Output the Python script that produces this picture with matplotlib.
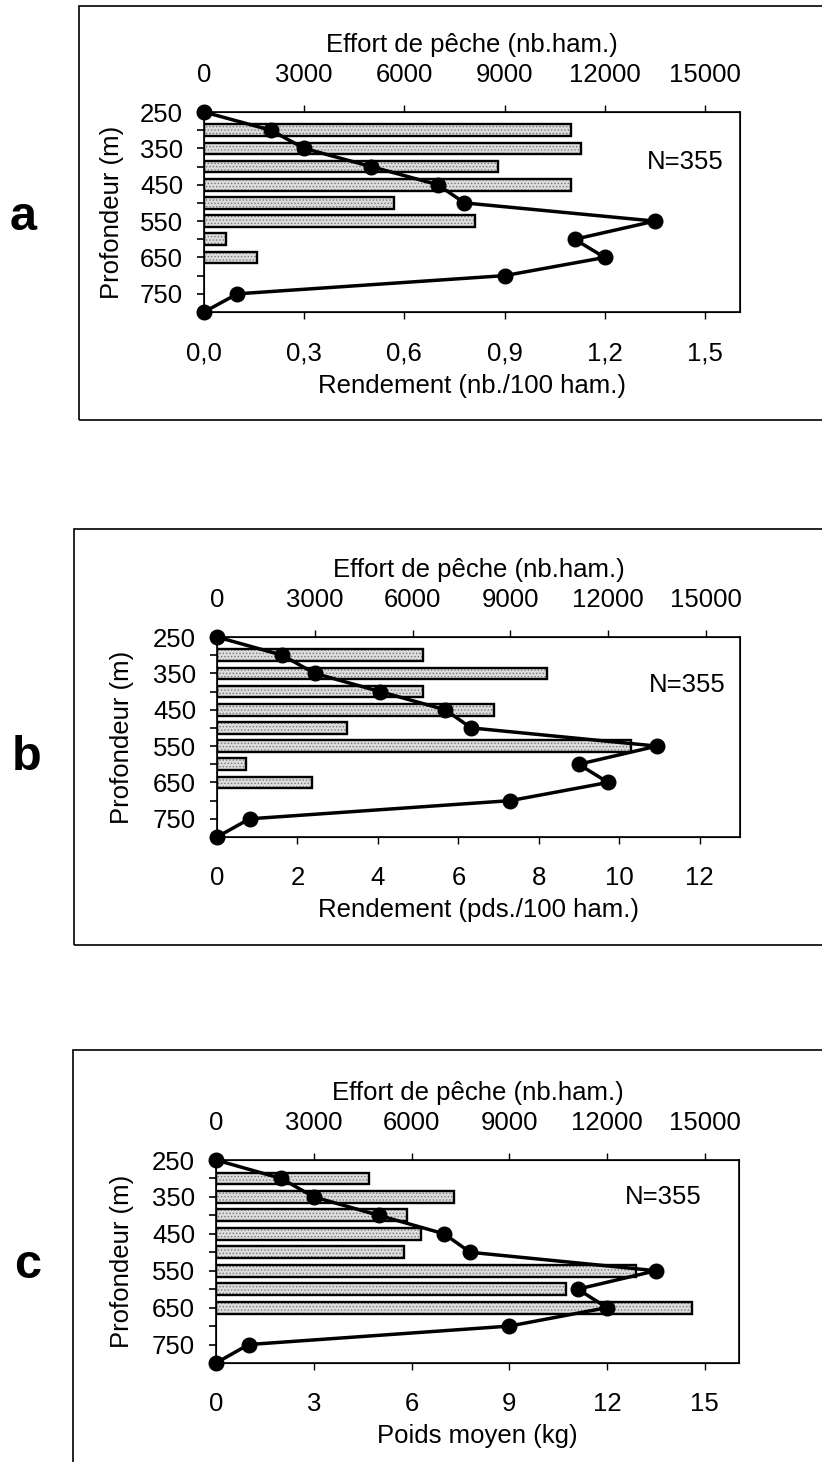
import matplotlib
matplotlib.use('Agg')
import matplotlib.pyplot as plt
from matplotlib.patches import Rectangle

plt.rcParams['font.family'] = ['Liberation Sans', 'DejaVu Sans']
plt.rcParams['hatch.linewidth'] = 0.6

# depth classes (m)
depth_line = [250, 300, 350, 400, 450, 500, 550, 600, 650, 700, 750, 800]
depth_bars = [300, 350, 400, 450, 500, 550, 600, 650]

# fishing effort (number of hooks), same for the three panels
effort = [0, 2000, 3000, 5000, 7000, 7800, 13500, 11100, 12000, 9000, 1000, 0]

# panel values (bars)
rend_nb = [1.10, 1.13, 0.88, 1.10, 0.57, 0.81, 0.065, 0.16]
rend_pds = [5.13, 8.2, 5.13, 6.88, 3.24, 10.3, 0.72, 2.36]
poids_moyen = [4.7, 7.3, 5.85, 6.3, 5.76, 12.9, 10.75, 14.6]

panels = [
    dict(letter='a', vals=rend_nb, xmax=1.605, ticks=[0, 0.3, 0.6, 0.9, 1.2, 1.5],
         labels=['0,0', '0,3', '0,6', '0,9', '1,2', '1,5'],
         xlabel='Rendement (nb./100 ham.)',
         box=(204, 112, 740, 312), frame=(79, 6, 420), letter_xy=(23, 230),
         n_xy=(0.897, 0.75), ylab_x=-0.149),
    dict(letter='b', vals=rend_pds, xmax=13.0, ticks=[0, 2, 4, 6, 8, 10, 12],
         labels=['0', '2', '4', '6', '8', '10', '12'],
         xlabel='Rendement (pds./100 ham.)',
         box=(217, 637, 740, 837), frame=(74, 529, 945), letter_xy=(27, 770),
         n_xy=(0.9, 0.76), ylab_x=-0.159),
    dict(letter='c', vals=poids_moyen, xmax=16.05, ticks=[0, 3, 6, 9, 12, 15],
         labels=['0', '3', '6', '9', '12', '15'],
         xlabel='Poids moyen (kg)',
         box=(216, 1160, 739, 1363), frame=(73, 1050, 1480), letter_xy=(28, 1278),
         n_xy=(0.855, 0.82), ylab_x=-0.157),
]

W, H = 822, 1462
fig = plt.figure(figsize=(W / 100, H / 100), dpi=100)

fs = 18.5

for p in panels:
    x0, y0, x1, y1 = p['box']
    ax = fig.add_axes([x0 / W, 1 - y1 / H, (x1 - x0) / W, (y1 - y0) / H])

    # bars: stippled grey fill, then black outline
    ax.barh(depth_bars, p['vals'], height=32, color='#dcdcdc', edgecolor='#7a7a7a',
            hatch='.....', linewidth=0, zorder=2)
    ax.barh(depth_bars, p['vals'], height=32, color='none', edgecolor='black',
            linewidth=1.7, zorder=3)

    ax.set_xlim(0, p['xmax'])
    ax.set_ylim(800, 250)
    ax.set_yticks([250, 350, 450, 550, 650, 750])
    ax.set_yticks([300, 400, 500, 600, 700, 800], minor=True)
    ax.set_xticks(p['ticks'])
    ax.set_xticklabels(p['labels'])
    ax.tick_params(axis='y', which='both', direction='out', length=5, width=1.2,
                   labelsize=fs, pad=10, right=False)
    ax.tick_params(axis='x', direction='out', length=5, width=1.0, labelsize=fs, pad=16)
    ax.set_xlabel(p['xlabel'], fontsize=fs, labelpad=6)
    ax.set_ylabel('Profondeur (m)', fontsize=fs)
    ax.yaxis.set_label_coords(p['ylab_x'], 0.5)
    for s in ax.spines.values():
        s.set_linewidth(1.2)

    # effort line on the top axis
    ax2 = ax.twiny()
    ax2.plot(effort, depth_line, color='black', linewidth=2.5, marker='o',
             markersize=10.5, clip_on=False, zorder=5)
    ax2.set_xlim(0, 16050)
    ax2.set_xticks([0, 3000, 6000, 9000, 12000, 15000])
    ax2.tick_params(axis='x', direction='out', length=5, width=1.0, labelsize=fs, pad=13)
    ax2.set_xlabel('Effort de pêche (nb.ham.)', fontsize=fs, labelpad=8)
    ax2.set_ylim(800, 250)

    ax.text(p['n_xy'][0], p['n_xy'][1], 'N=355', transform=ax.transAxes,
            ha='center', va='center', fontsize=fs)

    # panel frame (runs off the right edge of the page)
    fx, fy0, fy1 = p['frame']
    fig.patches.append(Rectangle((fx / W, 1 - fy1 / H), (W + 20 - fx) / W,
                                 (fy1 - fy0) / H, transform=fig.transFigure,
                                 fill=False, edgecolor='black', linewidth=1.2))

    lx, ly = p['letter_xy']
    fig.text(lx / W, 1 - ly / H, p['letter'], fontsize=35, fontweight='bold',
             ha='center', va='baseline')

fig.savefig('out.png', dpi=100)
